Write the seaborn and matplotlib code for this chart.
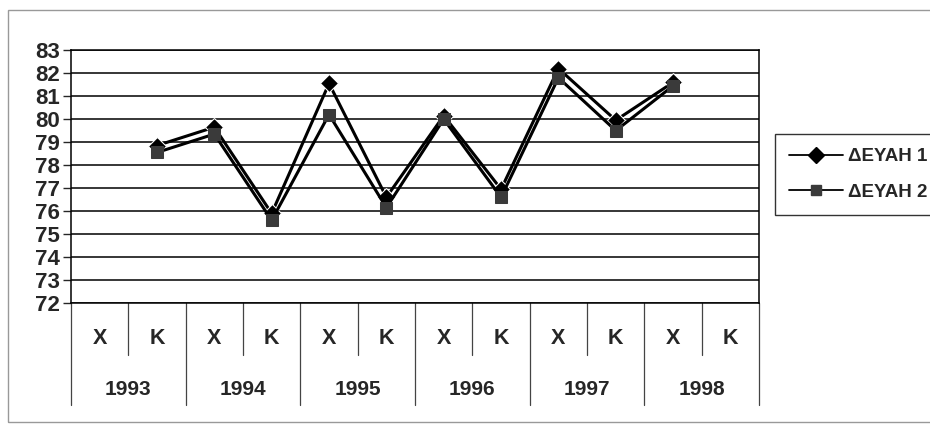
import numpy as np
import pandas as pd
import matplotlib
matplotlib.use('Agg')
import matplotlib.pyplot as plt
import matplotlib.transforms as mtransforms
from matplotlib.patches import Rectangle
import seaborn as sns

# data
years = ['1993', '1994', '1995', '1996', '1997', '1998']
halves = ['X', 'K']
deyah1 = [np.nan, 78.85, 79.65, 75.9, 81.55, 76.6, 80.15, 76.95, 82.2, 79.95, 81.6, np.nan]
deyah2 = [np.nan, 78.55, 79.35, 75.6, 80.2, 76.15, 80.0, 76.6, 81.8, 79.5, 81.45, np.nan]
series_names = ['ΔΕΥΑΗ 1', 'ΔΕΥΑΗ 2']
yticks = list(range(72, 84))

sns.set_style('white')
plt.rcParams['font.family'] = ['Liberation Sans', 'DejaVu Sans']
plt.rcParams['font.weight'] = 'bold'

n = len(years) * len(halves)
pos = np.arange(n)
df = pd.DataFrame({'pos': np.concatenate([pos, pos]),
                   'value': deyah1 + deyah2,
                   'series': [series_names[0]] * n + [series_names[1]] * n})

fig = plt.figure(figsize=(9.3, 4.25), dpi=100)
ax = fig.add_axes([0.0763, 0.287, 0.74, 0.595])

sns.lineplot(data=df, x='pos', y='value', hue='series', style='series',
             palette=['black', 'black'], markers={series_names[0]: 'D', series_names[1]: 's'},
             dashes=False, linewidth=2.2, markersize=8, ax=ax, legend=False)
# colour the square markers dark grey
ax.lines[1].set_markerfacecolor('#3a3a3a')
ax.lines[1].set_markeredgecolor('#3a3a3a')
ax.lines[0].set_markersize(9)

ax.set_xlim(-0.5, n - 0.5)
ax.set_ylim(72, 83)
ax.set_yticks(yticks)
ax.set_yticklabels([str(t) for t in yticks], fontsize=16, fontweight='bold')
ax.tick_params(axis='y', length=6, width=1, direction='out', pad=2, left=True)
ax.set_xticks([])
ax.set_xlabel('')
ax.set_ylabel('')
ax.yaxis.grid(True, color='black', linewidth=1.1)
for s in ax.spines.values():
    s.set_color('black')
    s.set_linewidth(1.1)

# two-level category axis below the plot
trans = mtransforms.blended_transform_factory(ax.transData, ax.transAxes)
for i in range(n + 1):
    bottom = -0.403 if i % 2 == 0 else -0.2055
    ax.plot([i - 0.5, i - 0.5], [0, bottom], color='#444444', lw=0.9,
            transform=trans, clip_on=False)
for i in range(n):
    ax.text(i, -0.142, halves[i % 2], transform=trans, ha='center', va='center',
            fontsize=15.5, fontweight='bold')
for j, yr in enumerate(years):
    ax.text(2 * j + 0.5, -0.34, yr, transform=trans, ha='center', va='center',
            fontsize=15, fontweight='bold')

# legend
handles = [plt.Line2D([], [], color='black', lw=1.3, marker='D', markersize=8.5),
           plt.Line2D([], [], color='black', lw=1.3, marker='s', markersize=6.5,
                      markerfacecolor='#3a3a3a', markeredgecolor='#3a3a3a')]
leg = fig.legend(handles, series_names, loc='upper left', bbox_to_anchor=(0.833, 0.685),
                 frameon=True, fancybox=False, edgecolor='black', handlelength=2.9,
                 handletextpad=0.25, borderpad=0.75, borderaxespad=0, labelspacing=1.0,
                 prop={'size': 13.5, 'weight': 'bold'})
leg.get_frame().set_linewidth(1)

# chart area border
fig.add_artist(Rectangle((8 / 930, 3 / 425), 1.0, 1 - 13 / 425, transform=fig.transFigure,
                         fill=False, edgecolor='#999999', lw=1))

fig.savefig('out.png', dpi=100)
